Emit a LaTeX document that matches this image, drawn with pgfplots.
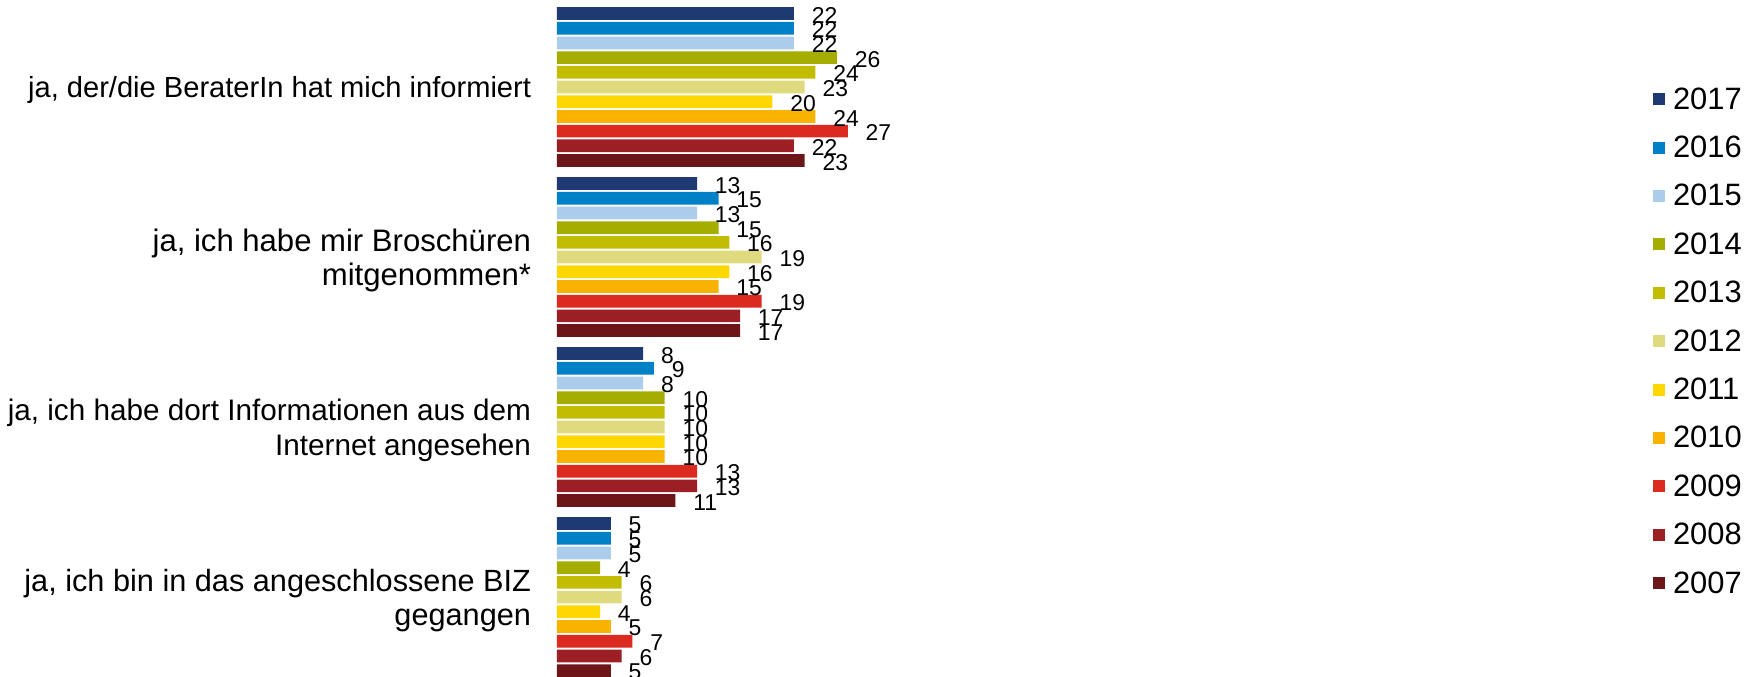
\documentclass[border=0pt]{standalone}
\usepackage{pgfplots}
\pgfplotsset{compat=1.18}
\usepackage{fontspec}
\setmainfont{Liberation Sans}
\definecolor{c2017}{RGB}{31,58,115}
\definecolor{c2016}{RGB}{0,128,198}
\definecolor{c2015}{RGB}{171,205,235}
\definecolor{c2014}{RGB}{164,173,0}
\definecolor{c2013}{RGB}{194,189,0}
\definecolor{c2012}{RGB}{224,218,127}
\definecolor{c2011}{RGB}{255,215,0}
\definecolor{c2010}{RGB}{248,178,0}
\definecolor{c2009}{RGB}{220,42,32}
\definecolor{c2008}{RGB}{155,31,36}
\definecolor{c2007}{RGB}{108,22,26}
\begin{document}
\begin{tikzpicture}
\begin{axis}[
  scale only axis,
  width=500bp, height=338.5bp,
  xmin=0, xmax=92.85,
  ymin=-0.512, ymax=3.47,
  y dir=reverse,
  xbar,
  bar width=0.0747,
  clip=false,
  axis line style={draw=none},
  xtick=\empty,
  ytick={0,1,2,3},
  yticklabels={{\fontsize{14.6}{17.4}\selectfont ja, der/die BeraterIn hat mich informiert},{\fontsize{15.6}{17.4}\selectfont ja, ich habe mir Broschüren\\\fontsize{15.6}{17.4}\selectfont mitgenommen*},{\fontsize{14.9}{17.4}\selectfont ja, ich habe dort Informationen aus dem\\\fontsize{14.9}{17.4}\selectfont Internet angesehen},{\fontsize{15.4}{17.4}\selectfont ja, ich bin in das angeschlossene BIZ\\\fontsize{15.4}{17.4}\selectfont gegangen}},
  ytick style={draw=none},
  major tick length=0pt,
  yticklabel style={font=\fontsize{15}{17.4}\selectfont, align=right, inner sep=0pt, yshift=-1.7bp},
  yticklabel shift=12.8bp,
  /pgf/number format/assume math mode=true,
  nodes near coords,
  nodes near coords style={anchor=west, inner sep=0pt, xshift=8.75bp, yshift=-0.8bp, font=\fontsize{11.5}{12}\selectfont, text=black},
  legend cell align=left,
  legend image code/.code={\fill[#1,draw=none] (0bp,-1bp) rectangle (6bp,5bp);},
  legend style={at={(1.096,0.8833)}, anchor=north west, draw=none, fill=none, inner sep=0pt, outer sep=0pt, row sep=0pt,
    font=\fontsize{15.5}{17}\selectfont,
    nodes={inner sep=0pt, text height=15bp, text depth=9.2bp},
    /tikz/every odd column/.append style={column sep=4bp}},
]
\addplot[fill=c2017, draw=none, bar shift=-0.43235] coordinates {(22,0) (13,1) (8,2) (5,3)};
\addplot[fill=c2016, draw=none, bar shift=-0.34588] coordinates {(22,0) (15,1) (9,2) (5,3)};
\addplot[fill=c2015, draw=none, bar shift=-0.25941] coordinates {(22,0) (13,1) (8,2) (5,3)};
\addplot[fill=c2014, draw=none, bar shift=-0.17294] coordinates {(26,0) (15,1) (10,2) (4,3)};
\addplot[fill=c2013, draw=none, bar shift=-0.08647] coordinates {(24,0) (16,1) (10,2) (6,3)};
\addplot[fill=c2012, draw=none, bar shift=0] coordinates {(23,0) (19,1) (10,2) (6,3)};
\addplot[fill=c2011, draw=none, bar shift=0.08647] coordinates {(20,0) (16,1) (10,2) (4,3)};
\addplot[fill=c2010, draw=none, bar shift=0.17294] coordinates {(24,0) (15,1) (10,2) (5,3)};
\addplot[fill=c2009, draw=none, bar shift=0.25941] coordinates {(27,0) (19,1) (13,2) (7,3)};
\addplot[fill=c2008, draw=none, bar shift=0.34588] coordinates {(22,0) (17,1) (13,2) (6,3)};
\addplot[fill=c2007, draw=none, bar shift=0.43235] coordinates {(23,0) (17,1) (11,2) (5,3)};
\legend{2017,2016,2015,2014,2013,2012,2011,2010,2009,2008,2007}
\coordinate (BL) at (rel axis cs:0,0);
\coordinate (TL) at (rel axis cs:0,1);
\end{axis}
\pgfresetboundingbox
\path[use as bounding box] ([xshift=-278.5bp]BL) rectangle ([xshift=596.5bp]TL);
\end{tikzpicture}
\end{document}
